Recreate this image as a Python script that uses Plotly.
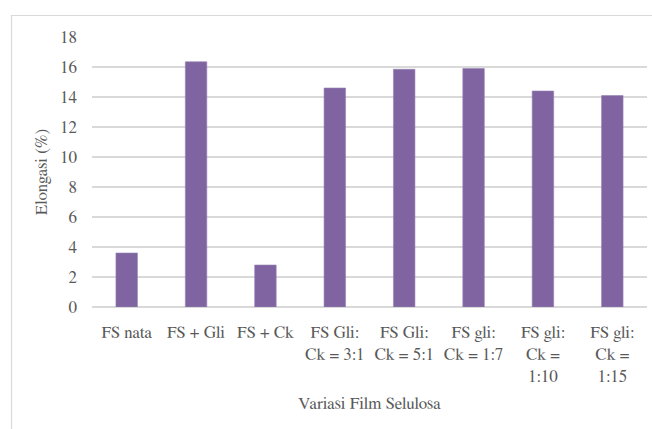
import plotly.graph_objects as go

# Film variants and their measured elongation at break (%)
categories = [
    "FS nata",
    "FS + Gli",
    "FS + Ck",
    "FS Gli:<br>Ck = 3:1",
    "FS Gli:<br>Ck = 5:1",
    "FS gli:<br>Ck = 1:7",
    "FS gli:<br>Ck =<br>1:10",
    "FS gli:<br>Ck =<br>1:15",
]
elongation = [3.6, 16.35, 2.8, 14.6, 15.85, 15.9, 14.4, 14.1]
y_ticks = [0, 2, 4, 6, 8, 10, 12, 14, 16, 18]

font_family = "Nimbus Roman, FreeSerif, Noto Serif, DejaVu Serif"
font_size = 17
text_color = "#595959"
grid_color = "#d9d9d9"

fig = go.Figure(
    go.Bar(
        x=categories,
        y=elongation,
        marker=dict(color="#8064a2", line=dict(color="#9683b3", width=0.6)),
        width=0.31,
    )
)

fig.update_layout(
    width=652,
    height=429,
    margin=dict(l=92, r=5, t=37, b=122),
    paper_bgcolor="white",
    plot_bgcolor="white",
    showlegend=False,
    font=dict(family=font_family, size=font_size, color=text_color),
    xaxis=dict(
        title=dict(text="Variasi Film Selulosa", standoff=12,
                   font=dict(family=font_family, size=font_size, color=text_color)),
        showgrid=False,
        showline=False,
        ticks="",
        tickangle=0,
        tickfont=dict(family=font_family, size=font_size, color=text_color),
        ticklabelstandoff=13,
    ),
    yaxis=dict(
        title=dict(text="Elongasi (%)", standoff=8,
                   font=dict(family=font_family, size=font_size, color=text_color)),
        range=[0, 18],
        tickvals=y_ticks,
        showgrid=True,
        gridcolor=grid_color,
        gridwidth=1.5,
        zeroline=True,
        zerolinecolor=grid_color,
        zerolinewidth=1.5,
        showline=False,
        ticks="",
        tickfont=dict(family=font_family, size=font_size, color=text_color),
        ticklabelstandoff=14,
    ),
    shapes=[
        dict(
            type="rect",
            xref="paper", yref="paper",
            x0=-0.145, x1=1.03, y0=-0.5, y1=1.0796,
            line=dict(color=grid_color, width=1.2),
            fillcolor="rgba(0,0,0,0)",
            layer="below",
        )
    ],
)

fig.write_html("out.html")
